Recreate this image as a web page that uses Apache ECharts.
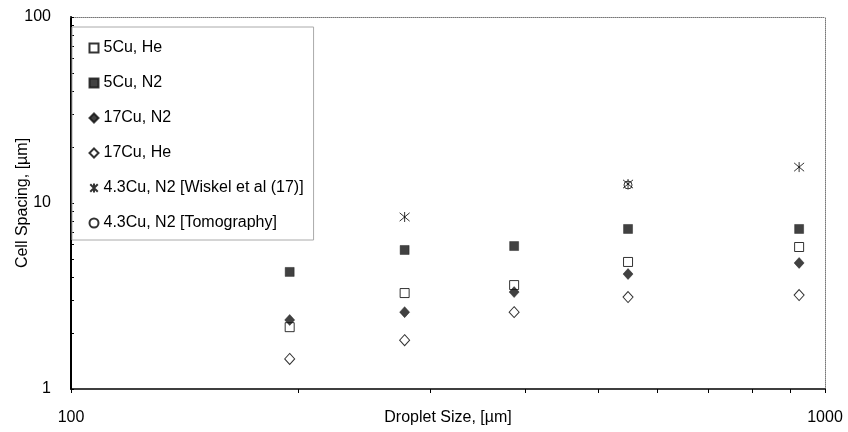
<!DOCTYPE html>
<html>
<head>
<meta charset="utf-8">
<script src="https://cdn.jsdelivr.net/npm/echarts@6/dist/echarts.min.js"></script>
<style>html,body{margin:0;padding:0;background:#fff}#c{width:848px;height:432px}</style>
</head>
<body>
<div id="c"></div>
<script>
// Data
const dropletSizes = [195, 277, 387, 548, 924];
const cu5He = [2.15, 3.28, 3.62, 4.82, 5.80];
const cu5N2 = [4.26, 5.59, 5.87, 7.25, 7.25];
const cu17N2 = [2.35, 2.59, 3.32, 4.15, 4.76];
const cu17He = [1.45, 1.83, 2.59, 3.12, 3.20];
const wiskelSizes = [277, 548, 924];
const wiskelValues = [8.41, 12.65, 15.6];
const tomoSizes = [548];
const tomoValues = [12.5];
const xTicks = [100, 200, 300, 400, 500, 600, 700, 800, 900, 1000];
const yTicks = [1, 2, 3, 4, 5, 6, 7, 8, 9, 10, 20, 30, 40, 50, 60, 70, 80, 90, 100];
const seriesNames = ['5Cu, He', '5Cu, N2', '17Cu, N2', '17Cu, He', '4.3Cu, N2 [Wiskel et al (17)]', '4.3Cu, N2 [Tomography]'];

const pairs = (xs, ys) => xs.map((x, i) => [x, ys[i]]);
const FONT = '"Liberation Sans", Arial, sans-serif';
const openStyle = {color: '#fff', borderColor: '#000', borderWidth: 1};
const filledStyle = {color: '#111', borderColor: '#111', borderWidth: 0.5};
const starPath = 'path://M0,0L10,10M10,0L0,10M5,-1L5,11';

const chart = echarts.init(document.getElementById('c'), null, {renderer: 'canvas'});
chart.setOption({
  animation: false,
  backgroundColor: '#fff',
  textStyle: {fontFamily: FONT, color: '#000'},
  grid: {left: 71, right: 23, top: 17, bottom: 43, containLabel: false, outerBoundsMode: 'none'},
  legend: {
    orient: 'vertical', left: 72, top: 27,
    padding: [13, 10, 9, 15], itemGap: 19,
    itemWidth: 9, itemHeight: 9,
    borderColor: '#aaa', borderWidth: 1,
    textStyle: {fontFamily: FONT, fontSize: 16, lineHeight: 16, color: '#000'},
    data: seriesNames
  },
  xAxis: [{
    type: 'log', logBase: 10, min: 100, max: 1000,
    name: 'Droplet Size, [\u00b5m]', nameLocation: 'middle', nameGap: 21, nameMoveOverlap: false,
    nameTextStyle: {fontFamily: FONT, fontSize: 16, color: '#000'},
    axisLine: {lineStyle: {color: '#000', width: 1.5}},
    axisTick: {show: true, inside: false, length: 4, lineStyle: {color: '#000'}, customValues: xTicks},
    axisLabel: {fontFamily: FONT, fontSize: 16, color: '#000', margin: 21, formatter: v => String(Math.round(v))},
    splitLine: {show: false}
  }, {
    type: 'log', logBase: 10, min: 100, max: 1000, position: 'top',
    axisLine: {show: true, lineStyle: {color: '#777', width: 1, type: 'dotted'}},
    axisTick: {show: false}, axisLabel: {show: false}, splitLine: {show: false}
  }],
  yAxis: [{
    type: 'log', logBase: 10, min: 1, max: 100,
    name: 'Cell Spacing, [\u00b5m]', nameLocation: 'middle', nameGap: 40, nameRotate: 90, nameMoveOverlap: false,
    nameTextStyle: {fontFamily: FONT, fontSize: 16, color: '#000'},
    axisLine: {show: true, lineStyle: {color: '#000', width: 2}},
    axisTick: {show: true, inside: true, length: 3, lineStyle: {color: '#000'}, customValues: yTicks},
    axisLabel: {fontFamily: FONT, fontSize: 16, color: '#000', margin: 20, formatter: v => String(Math.round(v))},
    splitLine: {show: false}
  }, {
    type: 'log', logBase: 10, min: 1, max: 100, position: 'right',
    axisLine: {show: true, lineStyle: {color: '#777', width: 1, type: 'dotted'}},
    axisTick: {show: false}, axisLabel: {show: false}, splitLine: {show: false}
  }],
  series: [
    {name: seriesNames[0], type: 'scatter', symbol: 'rect', symbolSize: 9, itemStyle: openStyle, data: pairs(dropletSizes, cu5He), z: 3},
    {name: seriesNames[1], type: 'scatter', symbol: 'rect', symbolSize: 9, itemStyle: filledStyle, data: pairs(dropletSizes, cu5N2), z: 3},
    {name: seriesNames[2], type: 'scatter', symbol: 'diamond', symbolSize: [10, 11], itemStyle: filledStyle, data: pairs(dropletSizes, cu17N2), z: 4},
    {name: seriesNames[3], type: 'scatter', symbol: 'diamond', symbolSize: [10, 11], itemStyle: openStyle, data: pairs(dropletSizes, cu17He), z: 3},
    {name: seriesNames[4], type: 'scatter', symbol: starPath, symbolSize: 10, itemStyle: {color: 'none', borderColor: '#000', borderWidth: 1}, data: pairs(wiskelSizes, wiskelValues), z: 4},
    {name: seriesNames[5], type: 'scatter', symbol: 'circle', symbolSize: 8, itemStyle: {color: 'none', borderColor: '#000', borderWidth: 1}, data: pairs(tomoSizes, tomoValues), z: 3}
  ]
});
</script>
</body>
</html>
